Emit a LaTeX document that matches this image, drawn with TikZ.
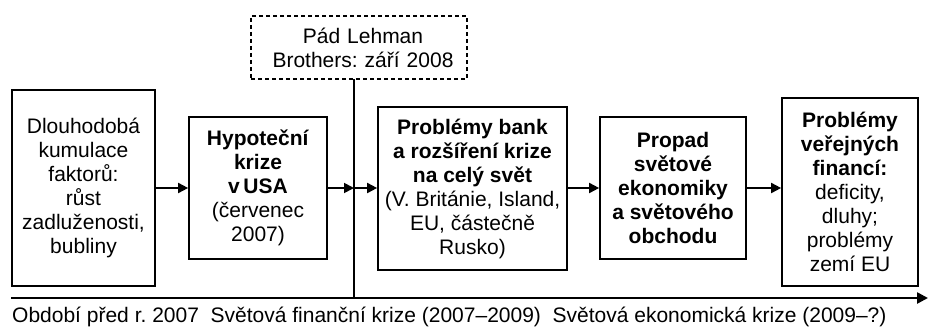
\documentclass[tikz,border=0pt]{standalone}
\usepackage{fontspec}
\setmainfont{Liberation Sans}
\usetikzlibrary{arrows.meta}
\frenchspacing
\begin{document}
\begin{tikzpicture}[x=1pt,y=-1pt,
  box/.style={draw,line width=1.7pt,align=center,inner sep=0pt,font=\fontsize{21}{24}\selectfont\frenchspacing},
  dbox/.style={draw,dash pattern=on 4pt off 3pt,line width=1.3pt,align=center,inner sep=0pt,font=\fontsize{21}{24}\selectfont\frenchspacing},
  arr/.style={line width=1.8pt,-{Triangle[length=10pt,width=10pt]}},
  lbl/.style={font=\fontsize{21}{24}\selectfont\frenchspacing,inner sep=0pt,anchor=west}]
\useasboundingbox (0,0) rectangle (928,329);
\node[box,minimum width=143pt,minimum height=196pt] (b1) at (83.5,188) {Dlouhodobá\\kumulace\\faktorů:\\růst\\zadluženosti,\\bubliny};
\node[box,minimum width=138pt,minimum height=142pt] (b2) at (258,188) {\textbf{Hypoteční}\\\textbf{krize}\\\textbf{v\,USA}\\(červenec\\2007)};
\node[box,minimum width=189pt,minimum height=163pt] (b3) at (472.5,188.5) {\textbf{Problémy bank}\\\textbf{a rozšíření krize}\\\textbf{na celý svět}\\(V. Británie, Island,\\EU, částečně\\Rusko)};
\node[box,minimum width=146pt,minimum height=142pt] (b4) at (673,188) {\textbf{Propad}\\\textbf{světové}\\\textbf{ekonomiky}\\\textbf{a světového}\\\textbf{obchodu}};
\node[box,minimum width=136pt,minimum height=188pt] (b5) at (850,192) {\textbf{Problémy}\\\textbf{veřejných}\\\textbf{financí:}\\deficity,\\dluhy;\\problémy\\zemí EU};
\node[dbox,minimum width=216pt,minimum height=63pt,text width=216pt] (lb) at (359,47.5) {\hspace*{8pt}Pád Lehman\\\hspace*{8pt}Brothers: září 2008};
\coordinate (vt) at (354,79);
\coordinate (vb) at (354,298);
\coordinate (vm) at (354,188);
\coordinate (ts) at (11,298);
\coordinate (te) at (928,298);
\draw[line width=1.2pt] (vt) -- (vb);
\draw[line width=2.5pt,-{Triangle[length=11pt,width=11pt]}] (ts) -- (te);
\draw[arr] (b1.east |- vm) -- (b2.west |- vm);
\draw[arr] (b2.east |- vm) -- (vm);
\draw[arr] (vm) -- (b3.west |- vm);
\draw[arr] (b3.east |- vm) -- (b4.west |- vm);
\draw[arr] (b4.east |- vm) -- (b5.west |- vm);
\node[lbl] (t1) at (12,317) {Období před r. 2007\ \ Světová finanční krize (2007–2009)\ \ Světová ekonomická krize (2009–?)};
\end{tikzpicture}
\end{document}
